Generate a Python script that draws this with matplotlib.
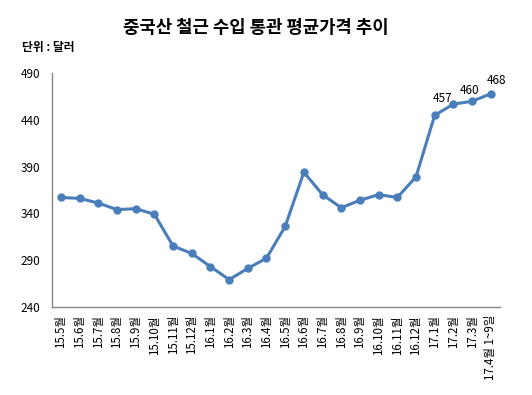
import matplotlib.pyplot as plt
import numpy as np

plt.rcParams['font.family'] = ['Noto Sans CJK KR', 'DejaVu Sans']

months = ['15.5월', '15.6월', '15.7월', '15.8월', '15.9월', '15.10월', '15.11월', '15.12월',
          '16.1월', '16.2월', '16.3월', '16.4월', '16.5월', '16.6월', '16.7월', '16.8월',
          '16.9월', '16.10월', '16.11월', '16.12월', '17.1월', '17.2월', '17.3월', '17.4월 1~9일']
prices = [357, 356, 351, 344, 345, 339, 305, 297, 283, 269, 281, 292, 326, 384, 360, 346,
          354, 360, 357, 379, 445, 457, 460, 468]
labeled = [21, 22, 23]
yticks = [240, 290, 340, 390, 440, 490]

fig = plt.figure(figsize=(5.32, 3.95), dpi=100)
ax = fig.add_axes([0.097, 0.2235, 0.843, 0.591])

x = np.arange(len(months))
ax.plot(x, prices, color='#4a7ebb', lw=2.2, marker='o', ms=5)

# label positions, nudged like the Excel original
offsets = [(-11, 6), (-2, 11), (6, 13)]
for i, off in zip(labeled, offsets):
    ax.annotate(str(prices[i]), (x[i], prices[i]), xytext=off, textcoords='offset pixels',
                ha='center', va='center', fontsize=8.5)

ax.set_xlim(-0.5, len(months) - 0.5)
ax.set_ylim(240, 490)
ax.set_yticks(yticks)
ax.set_xticks(x)
ax.set_xticklabels(months, rotation=90, fontsize=8.3, va='top')
ax.tick_params(axis='y', length=0, labelsize=8.5, pad=8)
ax.tick_params(axis='x', length=0, pad=6)

for s in ['top', 'right']:
    ax.spines[s].set_visible(False)
for s in ['left', 'bottom']:
    ax.spines[s].set_color('#868686')
    ax.spines[s].set_linewidth(1)

fig.text(0.48, 0.93, '중국산 철근 수입 통관 평균가격 추이', ha='center', va='center',
         fontsize=12.8, fontweight='bold')
fig.text(0.041, 0.88, '단위 : 달러', ha='left', va='center', fontsize=8.5, fontweight='bold')

plt.savefig('out.png')
